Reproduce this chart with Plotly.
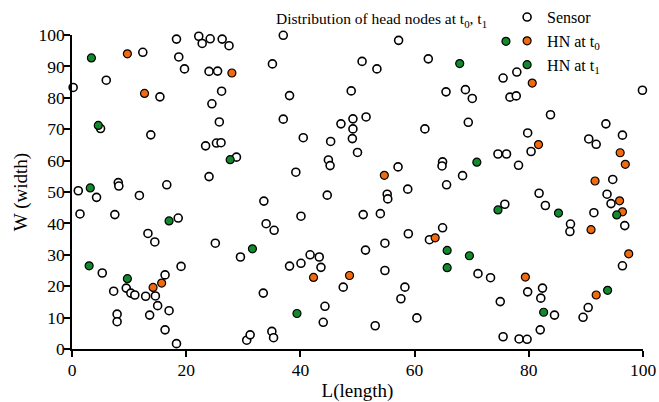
import plotly.graph_objects as go

sensor_x = [0.2, 12.4, 6.0, 15.4, 5.0, 13.8, 18.3, 18.7, 19.7, 22.2, 22.8, 24.2, 26.3, 27.5, 24.0, 25.5, 26.2, 24.5, 25.8, 23.4,
            25.3, 26.1, 28.8, 24.0, 8.1, 8.2, 16.6, 1.1,
            37.0, 57.2, 35.1, 50.8, 53.4, 62.4, 38.1, 48.9, 65.5, 37.0, 47.1, 49.2, 51.5, 49.2, 61.8, 40.5, 45.3, 49.1,
            50.0, 44.9, 45.2, 39.2, 57.1, 64.9, 64.8, 58.8, 65.6,
            75.5, 77.9, 99.9, 68.9, 70.1, 76.7, 77.8, 83.8, 69.4, 93.5, 79.8, 96.4, 90.5, 91.8, 80.4, 74.6, 76.1, 78.2,
            68.4, 94.7,
            4.3, 11.8, 1.4, 7.5, 18.6, 13.3, 14.5, 25.1, 29.5, 5.3, 19.1, 16.3, 7.3, 9.5, 10.3, 11.0, 12.9, 14.6, 15.0,
            17.0, 13.6, 7.9, 7.9, 16.3, 18.3, 30.6, 31.2,
            33.6, 44.7, 55.2, 55.3, 40.1, 51.0, 54.0, 34.0, 35.4, 58.9, 62.6, 64.9, 54.8, 51.4, 41.7, 43.3, 40.1, 38.1,
            43.6, 54.8, 47.5, 58.3, 57.6, 33.5, 44.3, 44.0, 53.1, 60.4, 35.0, 35.3,
            81.8, 75.8, 82.9, 93.7, 94.4, 91.4, 96.8, 87.3, 87.2, 96.4, 71.1, 73.3, 75.0, 79.8, 82.4, 82.1, 84.5, 90.4,
            89.5, 82.0, 75.5, 78.3, 79.7]
sensor_y = [83.3, 94.5, 85.6, 80.3, 70.2, 68.2, 98.7, 93.0, 89.2, 99.6, 97.3, 98.8, 98.7, 96.6, 88.4, 88.5, 82.1, 78.1, 72.3, 64.7,
            65.6, 65.7, 61.1, 54.9, 53.0, 51.9, 52.3, 50.4,
            99.9, 98.3, 90.8, 91.6, 89.2, 92.4, 80.7, 82.2, 81.9, 73.2, 71.7, 73.3, 73.9, 70.1, 70.1, 67.3, 66.1, 67.0,
            62.6, 60.2, 58.4, 56.3, 58.0, 59.6, 58.3, 50.9, 52.3,
            86.3, 88.2, 82.4, 82.6, 79.8, 80.2, 80.6, 74.6, 72.2, 71.7, 68.8, 68.1, 66.9, 65.2, 62.9, 62.1, 62.1, 58.5,
            55.2, 54.0,
            48.3, 48.9, 43.0, 42.8, 41.7, 36.8, 34.1, 33.7, 29.3, 24.2, 26.3, 23.6, 18.4, 19.4, 17.8, 17.2, 16.8, 16.9, 13.8,
            12.2, 10.8, 11.1, 8.7, 6.1, 1.7, 2.8, 4.5,
            47.1, 49.0, 49.3, 47.8, 42.3, 42.8, 43.1, 39.9, 37.8, 36.7, 34.8, 38.6, 33.7, 31.5, 30.0, 29.3, 27.3, 26.4,
            26.0, 25.0, 19.7, 19.7, 16.0, 17.8, 13.6, 8.5, 7.4, 9.9, 5.6, 3.6,
            49.6, 46.1, 45.7, 49.3, 46.3, 43.4, 39.3, 39.8, 37.4, 26.5, 24.0, 22.7, 15.1, 18.2, 19.4, 16.2, 10.8, 13.2,
            10.1, 6.1, 3.9, 3.2, 3.1]

hn_t0_x = [9.7, 12.7, 28.0, 54.7, 80.6, 81.7, 96.0, 96.9, 91.6, 15.7, 14.2, 63.6, 42.3, 48.6, 95.9, 96.4, 90.9, 97.5, 79.4, 91.8]
hn_t0_y = [94.0, 81.4, 87.9, 55.3, 84.7, 65.1, 62.5, 58.8, 53.5, 21.0, 19.6, 35.4, 22.8, 23.4, 47.2, 43.7, 38.0, 30.3, 22.9, 17.2]

hn_t1_x = [3.4, 4.6, 27.7, 3.2, 76.0, 67.9, 70.9, 17.0, 31.6, 3.0, 9.7, 39.4, 74.6, 85.2, 95.4, 65.7, 65.7, 69.6, 82.6, 93.8]
hn_t1_y = [92.7, 71.2, 60.3, 51.3, 98.0, 90.9, 59.5, 40.8, 31.9, 26.5, 22.4, 11.3, 44.3, 43.3, 42.7, 31.4, 25.9, 29.7, 11.7, 18.7]

tick_vals_x = [0, 20, 40, 60, 80, 100]
tick_vals_y = [0, 10, 20, 30, 40, 50, 60, 70, 80, 90, 100]

FONT = "Liberation Serif, Times New Roman, serif"

fig = go.Figure()
fig.add_trace(go.Scatter(x=sensor_x, y=sensor_y, mode="markers", name="Sensor",
                         marker=dict(size=8, color="white", line=dict(color="black", width=1.6)),
                         cliponaxis=False))
fig.add_trace(go.Scatter(x=hn_t0_x, y=hn_t0_y, mode="markers", name="HN at t<sub>0</sub>",
                         marker=dict(size=8, color="#F26A10", line=dict(color="black", width=1.2)),
                         cliponaxis=False))
fig.add_trace(go.Scatter(x=hn_t1_x, y=hn_t1_y, mode="markers", name="HN at t<sub>1</sub>",
                         marker=dict(size=8, color="#108A2C", line=dict(color="black", width=1.2)),
                         cliponaxis=False))

fig.update_layout(
    width=659, height=402,
    margin=dict(l=72, r=16, t=35, b=53, autoexpand=False),
    paper_bgcolor="white", plot_bgcolor="white",
    font=dict(family=FONT, size=17, color="black"),
    title=dict(text="Distribution of head nodes at t<sub>0</sub>, t<sub>1</sub>",
               x=0.579, xanchor="center", y=0.953, yanchor="middle",
               font=dict(family=FONT, size=15.5, color="black")),
    legend=dict(x=0.762, y=1.111, xanchor="left", yanchor="top",
                font=dict(family=FONT, size=16, color="black"),
                bgcolor="rgba(0,0,0,0)", tracegroupgap=0),
    showlegend=True,
)
fig.update_xaxes(range=[0, 100], tickvals=tick_vals_x, showgrid=False, zeroline=False,
                 showline=True, linecolor="black", linewidth=1.5, ticks="outside", ticklen=6,
                 tickwidth=1.5, tickcolor="black", automargin=False, ticklabelstandoff=-2,
                 title=dict(text="L(length)", font=dict(family=FONT, size=19), standoff=8),
                 tickfont=dict(family=FONT, size=17.5))
fig.update_yaxes(range=[0, 100], tickvals=tick_vals_y, showgrid=False, zeroline=False,
                 showline=True, linecolor="black", linewidth=1.5, ticks="outside", ticklen=6,
                 tickwidth=1.5, tickcolor="black", automargin=False, ticklabelstandoff=-4,
                 title=dict(text="W (width)", font=dict(family=FONT, size=19), standoff=6),
                 tickfont=dict(family=FONT, size=17.5))

fig.write_html("out.html", config={"displayModeBar": False},
               post_script="document.body.style.margin='0';document.body.style.padding='0';")
